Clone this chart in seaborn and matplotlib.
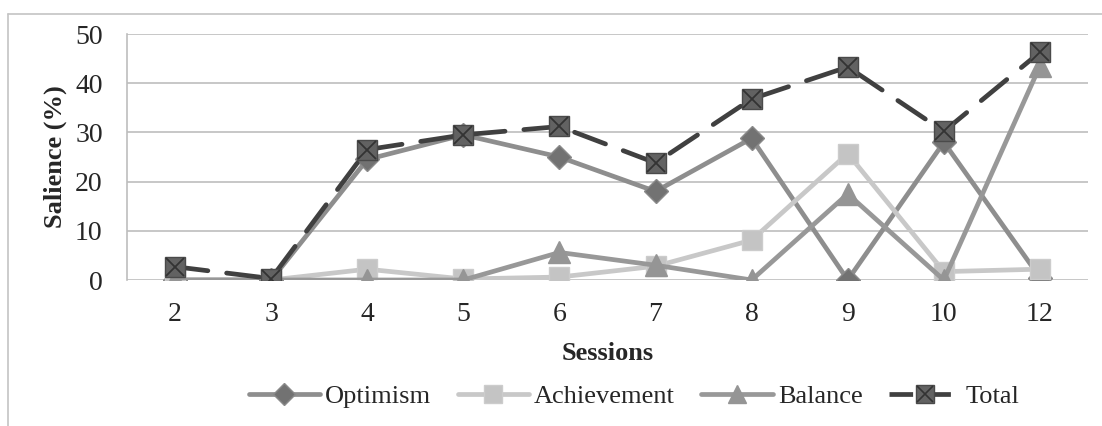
import seaborn as sns
import matplotlib.pyplot as plt
import numpy as np
from matplotlib.lines import Line2D

sessions = ['2', '3', '4', '5', '6', '7', '8', '9', '10', '12']
optimism = [0, 0, 24.5, 29.5, 25.0, 18.0, 28.8, 0, 28.0, 0.5]
achievement = [0, 0, 2.2, 0.2, 0.6, 2.8, 8.1, 25.7, 1.7, 2.2]
balance = [0, 0, 0, 0, 5.6, 3.0, 0, 17.5, 0, 43.5]
total = [2.7, 0.3, 26.5, 29.5, 31.2, 23.8, 36.8, 43.3, 30.2, 46.3]

sns.set_style('white')
plt.rcParams['font.family'] = ['Liberation Serif', 'DejaVu Serif']

f = plt.figure(figsize=(11.02, 4.26), dpi=100)
ax = f.add_axes([127/1102, 1-280/426, (1088-127)/1102, (280-34)/426])

pos = np.arange(len(sessions))
lw = 3.4
sns.lineplot(x=pos, y=optimism, ax=ax, color='#8e8e8e', lw=lw, marker='D', ms=12,
             markerfacecolor='#727272', markeredgecolor='#8a8a8a', markeredgewidth=1)
sns.lineplot(x=pos, y=achievement, ax=ax, color='#c8c8c8', lw=lw, marker='s', ms=15,
             markerfacecolor='#c4c4c4', markeredgecolor='#cccccc', markeredgewidth=1)
sns.lineplot(x=pos, y=balance, ax=ax, color='#989898', lw=lw, marker='^', ms=16,
             markerfacecolor='#959595', markeredgecolor='#959595', markeredgewidth=1)
sns.lineplot(x=pos, y=total, ax=ax, color='#404040', lw=lw, marker='s', ms=15,
             markerfacecolor='#626262', markeredgecolor='#4a4a4a', markeredgewidth=1,
             dashes=False, linestyle=(0, (7, 4)), dash_capstyle='round')
ax.plot(pos, total, linestyle='none', marker='x', ms=13, mew=1.3, color='#333333')

ax.set_xlim(-0.5, len(sessions) - 0.5)
ax.set_ylim(0, 50)
ax.set_yticks(np.arange(0, 51, 10))
ax.set_xticks(pos, sessions)
ax.yaxis.grid(True, color='#bdbdbd', lw=1.2)
ax.set_axisbelow(True)
for s in ['top', 'right', 'bottom']:
    ax.spines[s].set_visible(False)
ax.spines['left'].set_color('#bdbdbd')
ax.spines['left'].set_linewidth(1.2)
ax.tick_params(axis='y', length=6.5, width=1.2, color='#bdbdbd', pad=11, labelsize=20)
ax.tick_params(axis='x', length=0, pad=16, labelsize=20)
ax.set_ylabel('Salience (%)', fontsize=19, fontweight='bold', labelpad=6)
ax.set_xlabel('Sessions', fontsize=19, fontweight='bold', labelpad=11)

h_opt = Line2D([], [], color='#8e8e8e', lw=lw, marker='D', ms=11,
               markerfacecolor='#727272', markeredgecolor='#8a8a8a')
h_ach = Line2D([], [], color='#c8c8c8', lw=lw, marker='s', ms=13,
               markerfacecolor='#c4c4c4', markeredgecolor='#cccccc')
h_bal = Line2D([], [], color='#989898', lw=lw, marker='^', ms=13,
               markerfacecolor='#959595', markeredgecolor='#959595')
h_tot = Line2D([], [], color='#404040', lw=lw, linestyle=(0, (5, 3)), marker='s', ms=13,
               markerfacecolor='#626262', markeredgecolor='#4a4a4a')
h_tx = Line2D([], [], linestyle='none', marker='x', ms=11, mew=1.2, color='#333333')
f.legend([h_opt, h_ach, h_bal, (h_tot, h_tx)], ['Optimism', 'Achievement', 'Balance', 'Total'],
         loc='center', bbox_to_anchor=(634/1102, 1-396/426), ncol=4, frameon=False,
         fontsize=19, handlelength=2.7, handletextpad=0.2, columnspacing=1.0)

f.add_artist(Line2D([8/1102, 1], [1-14/426, 1-14/426], color='#c4c4c4', lw=1.2, transform=f.transFigure))
f.add_artist(Line2D([8/1102, 8/1102], [0, 1-14/426], color='#c4c4c4', lw=1.2, transform=f.transFigure))

f.savefig('out.png', dpi=100)
